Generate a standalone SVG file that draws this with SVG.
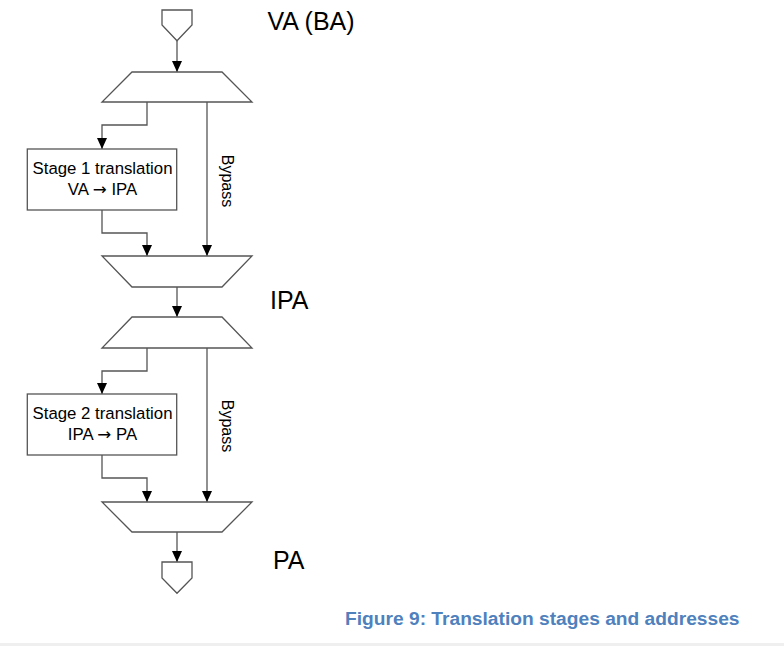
<svg xmlns="http://www.w3.org/2000/svg" width="784" height="646" viewBox="0 0 784 646">
<style>
.shape{fill:#ffffff;stroke:#555555;stroke-width:1.3}
.conn{fill:none;stroke:#555555;stroke-width:1.3}
.conn.arr{marker-end:url(#ah)}
.box{font-family:"Liberation Sans",Arial,sans-serif;font-size:16.8px;fill:#000000;text-anchor:middle}
.ar{font-family:"DejaVu Sans",sans-serif}
.lbl{font-family:"Liberation Sans",Arial,sans-serif;font-size:25px;fill:#000000}
.byp{font-family:"Liberation Sans",Arial,sans-serif;font-size:16px;fill:#000000;text-anchor:middle}
.cap{font-family:"Liberation Sans",Arial,sans-serif;font-size:19.2px;font-weight:bold;fill:#4f81bd}
</style>
<defs>
<marker id="ah" viewBox="0 0 11 10" markerUnits="userSpaceOnUse" markerWidth="11" markerHeight="10" refX="11" refY="5" orient="auto">
<path d="M0,0 L11,5 L0,10 Z" fill="#000000"/>
</marker>
</defs>
<rect x="0" y="0" width="784" height="646" fill="#ffffff"/>
<rect x="0" y="643" width="784" height="3" fill="#efefef"/>

<g id="connectors">
<path class="conn arr" d="M177,41 L177,72"/>
<path class="conn arr" d="M147,102 L147,125 L102,125 L102,149"/>
<path class="conn arr" d="M207,102 L207,256"/>
<path class="conn arr" d="M102,210 L102,233 L147,233 L147,256"/>
<path class="conn arr" d="M177,287 L177,317"/>
<path class="conn arr" d="M147,348 L147,371 L102,371 L102,394"/>
<path class="conn arr" d="M207,348 L207,502"/>
<path class="conn arr" d="M102,455 L102,478 L147,478 L147,502"/>
<path class="conn arr" d="M177,532 L177,562"/>
</g>

<g id="input">
<polygon class="shape" points="162,10 192,10 192,25 177,40.7 162,25"/>
</g>
<g id="mux1">
<polygon class="shape" points="132,72 222,72 252,102 102,102"/>
</g>
<g id="stage1">
<rect class="shape" x="27.3" y="149" width="149.4" height="61"/>
<text class="box" x="102.5" y="174.3">Stage 1 translation</text>
<text class="box" x="102.5" y="195.3">VA <tspan class="ar">→</tspan> IPA</text>
</g>
<g id="mux2">
<polygon class="shape" points="102,256 252,256 222,287 132,287"/>
</g>
<g id="mux3">
<polygon class="shape" points="132,317 222,317 252,348 102,348"/>
</g>
<g id="stage2">
<rect class="shape" x="27.3" y="394" width="149.4" height="61"/>
<text class="box" x="102.5" y="419.3">Stage 2 translation</text>
<text class="box" x="102.5" y="440.3">IPA <tspan class="ar">→</tspan> PA</text>
</g>
<g id="mux4">
<polygon class="shape" points="102,502 252,502 222,532 132,532"/>
</g>
<g id="output">
<polygon class="shape" points="162,562 192,562 192,578 177,593.3 162,578"/>
</g>

<g id="labels">
<text class="byp" transform="translate(222,181) rotate(90)">Bypass</text>
<text class="byp" transform="translate(222,426) rotate(90)">Bypass</text>
<text class="lbl" x="267.5" y="29.5">VA (BA)</text>
<text class="lbl" x="270" y="309">IPA</text>
<text class="lbl" x="273" y="569">PA</text>
<text class="cap" x="345" y="625">Figure 9: Translation stages and addresses</text>
</g>
</svg>
